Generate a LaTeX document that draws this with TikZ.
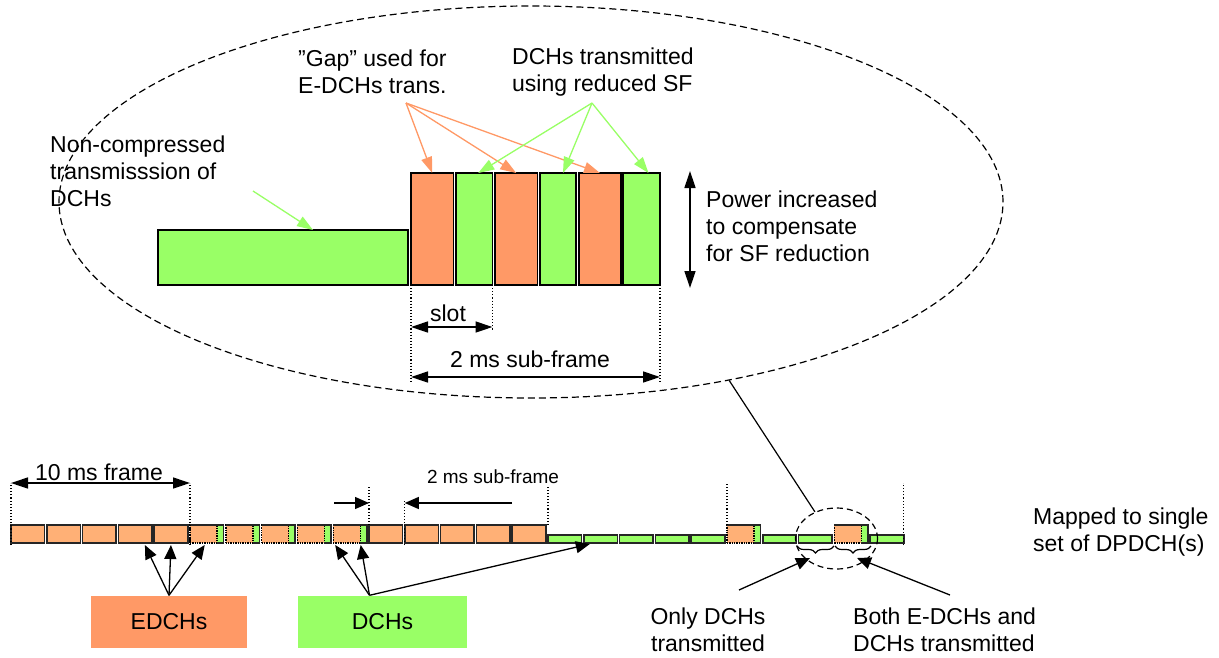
\documentclass[tikz,border=0pt]{standalone}
\usepackage{fontspec}
\setmainfont{Liberation Sans}
\usetikzlibrary{arrows.meta,shapes.geometric,decorations.pathreplacing}
\definecolor{edch}{RGB}{255,153,102}
\definecolor{edchlt}{RGB}{255,176,118}
\definecolor{dch}{RGB}{153,255,102}

\begin{document}
\begin{tikzpicture}[x=1pt,y=-1pt,
  txt/.style={font=\fontsize{23}{27}\selectfont, inner sep=0pt, align=left},
  smalltxt/.style={font=\fontsize{19}{22}\selectfont, inner sep=0pt},
  blk/.style={draw=black, line width=1.4pt, inner sep=0pt, outer sep=0pt, anchor=south west, minimum height=112pt},
  sfbox/.style={draw=black!85, line width=1.6pt, inner sep=0pt, outer sep=0pt, anchor=south west, minimum width=33.5pt},
  sfline/.style={draw=black!85, line width=1.6pt},
  otip/.style={-{Triangle[length=16pt,width=11pt]}, draw=edch, fill=edch, line width=1.3pt},
  gtip/.style={-{Triangle[length=16pt,width=11pt]}, draw=dch, fill=dch, line width=1.3pt},
  ktip/.style={-{Triangle[length=14pt,width=12pt]}, line width=1.3pt},
  dim/.style={{Triangle[length=17pt,width=11pt]}-{Triangle[length=17pt,width=11pt]}, line width=1.4pt},
  guide/.style={dotted, line width=1.1pt}]
\useasboundingbox (0,0) rectangle (1219,657);

% zoomed view
\node[draw, dashed, dash pattern=on 7pt off 4pt, line width=1.2pt, ellipse, inner sep=0pt,
      minimum width=944pt, minimum height=392pt] (zoombig) at (531,202) {};

\node[blk, fill=dch, minimum width=250pt, minimum height=55pt] (nc) at (158,285) {};
\node[blk, fill=edch, minimum width=42.5pt] (e1) at (411,285) {};
\node[blk, fill=dch, minimum width=36.5pt] (d1) at (456,285) {};
\node[blk, fill=edch, minimum width=42.5pt] (e2) at (495,285) {};
\node[blk, fill=dch, minimum width=36pt] (d2) at (540,285) {};
\node[blk, fill=edch, minimum width=42pt] (e3) at (579,285) {};
\node[blk, fill=dch, minimum width=37pt] (d3) at (623,285) {};

\node[txt, anchor=west] (nctxt) at (50,171) {Non-compressed\\transmisssion of\\DCHs};
\node[txt, anchor=west] (gaptxt) at (298,72) {”Gap” used for\\E-DCHs trans.};
\node[txt, anchor=west] (redtxt) at (512,72) {DCHs transmitted\\using reduced SF};
\node[txt, anchor=west] (pwrtxt) at (706,226) {Power increased\\to compensate\\for SF reduction};

\coordinate (ncsrc) at (253,191);
\coordinate (gapsrc) at (406,103);
\coordinate (redsrc) at (592,103);
\draw[gtip] (ncsrc) -- ([xshift=30pt]nc.north);
\foreach \b in {e1,e2,e3}
  \draw[otip] (gapsrc) -- (\b.north);
\foreach \b/\s in {d1/4,d2/5,d3/7}
  \draw[gtip] (redsrc) -- ([xshift=\s pt]\b.north);

% power step
\coordinate (pwrtop) at (690,171);
\coordinate (pwrbot) at (690,288);
\draw[dim] (pwrtop) -- (pwrbot);

% slot and sub-frame lengths
\coordinate (slotrow) at (0,327);
\coordinate (subrow) at (0,377);
\draw[guide] (e1.south west) -- ++(0,97);
\draw[guide] (d1.south east) -- ++(0,45);
\draw[guide] (d3.south east) -- ++(0,97);
\draw[dim] (e1.south west |- slotrow) -- (d1.south east |- slotrow);
\draw[dim] (e1.south west |- subrow) -- (d3.south east |- subrow);
\node[txt] (slottxt) at (448,313) {slot};
\node[txt] (subtxt) at (530,359) {2 ms sub-frame};

% bottom frame strip
\foreach \i in {0,1,2,3,4,10,11,12,13,14}
  \node[sfbox, fill=edchlt, minimum height=18pt] (sf\i) at (11+35.8*\i,543) {};
\foreach \i in {15,16,17,18,19,21,22,24}
  \node[sfbox, fill=dch, minimum height=8pt] (sf\i) at (11+35.8*\i,543) {};
\foreach \i in {5,6,7,8,9,20,23} {
  \node[sfbox, draw=none, fill=dch, minimum height=18pt] (sf\i) at (11+35.8*\i,543) {};
  \filldraw[fill=edchlt, densely dotted, line width=1.4pt] (sf\i.south west) rectangle ++(27,-18);
  \draw[sfline] ([xshift=27pt]sf\i.south west) -- (sf\i.south east) -- (sf\i.north east) -- (sf\i.north west);
}

\coordinate (frow) at (0,483);
\coordinate (sfrow) at (0,503);
\draw[guide] (sf0.south west) ++(0,2) -- ++(0,-62);
\draw[guide] (sf5.south west) ++(0,2) -- ++(0,-62);
\draw[guide] (sf10.south west) ++(0,-18) -- ++(0,-40);
\draw[guide] (sf11.south west) ++(0,2) -- ++(0,-44);
\draw[guide] (sf15.south west) ++(0,-18) -- ++(0,-40);
\draw[guide] (sf20.south west) ++(0,-18) -- ++(0,-43);
\draw[guide] (sf24.south east) ++(0,2) -- ++(0,-62);
\draw[dim] (sf0.south west |- frow) -- (sf5.south west |- frow);
\node[txt] (frametxt) at (99,472) {10 ms frame};

\coordinate (sfl) at (334,503);
\coordinate (sfr) at (512,503);
\draw[ktip] (sfl) -- (sf10.south west |- sfrow);
\draw[ktip] (sfr) -- (sf11.south west |- sfrow);
\node[smalltxt] (smalltxt) at (493,477) {2 ms sub-frame};

% small view and braces
\node[draw, dashed, dash pattern=on 6pt off 4pt, line width=1.2pt, ellipse, inner sep=0pt,
      minimum width=82pt, minimum height=61pt] (zoomsm) at (836.5,538.5) {};
\draw[line width=1.2pt] (zoombig.-42) -- (zoomsm.129);
\draw[decorate, decoration={brace, mirror, amplitude=7pt}, line width=1.2pt] (797,546) -- (834,546);
\draw[decorate, decoration={brace, mirror, amplitude=7pt}, line width=1.2pt] (835,546) -- (871,546);
\coordinate (b1) at (810,558);
\coordinate (b2) at (857,558);
\coordinate (onlysrc) at (739,590);
\coordinate (bothsrc) at (950,595);
\draw[ktip] (onlysrc) -- (b1);
\draw[ktip] (bothsrc) -- (b2);

\node[txt, align=center] (onlytxt) at (708,630) {Only DCHs\\transmitted};
\node[txt, anchor=west] (bothtxt) at (853,630) {Both E-DCHs and\\DCHs transmitted};
\node[txt, anchor=west] (maptxt) at (1033,532) {Mapped to single\\set of DPDCH(s)};

% legend
\node[txt, fill=edch, minimum width=156pt, minimum height=52pt, align=center] (edchbox) at (169,621.5) {EDCHs};
\node[txt, fill=dch, minimum width=169pt, minimum height=52pt, align=center] (dchbox) at (382.5,621.5) {DCHs};
\draw[ktip] (edchbox.north) -- ([xshift=-7pt,yshift=-2pt]sf3.south east);
\draw[ktip] (edchbox.north) -- ([yshift=-2pt]sf4.south);
\draw[ktip] (edchbox.north) -- ([xshift=-2pt,yshift=-2pt]sf5.south);
\draw[ktip] ([xshift=-13pt]dchbox.north) -- ([xshift=2pt,yshift=-2pt]sf9.south west);
\draw[ktip] ([xshift=-13pt]dchbox.north) -- ([xshift=-6pt,yshift=-2pt]sf9.south east);
\draw[ktip] ([xshift=-13pt]dchbox.north) -- ([xshift=6pt,yshift=-1pt]sf16.south west);
\end{tikzpicture}
\end{document}
